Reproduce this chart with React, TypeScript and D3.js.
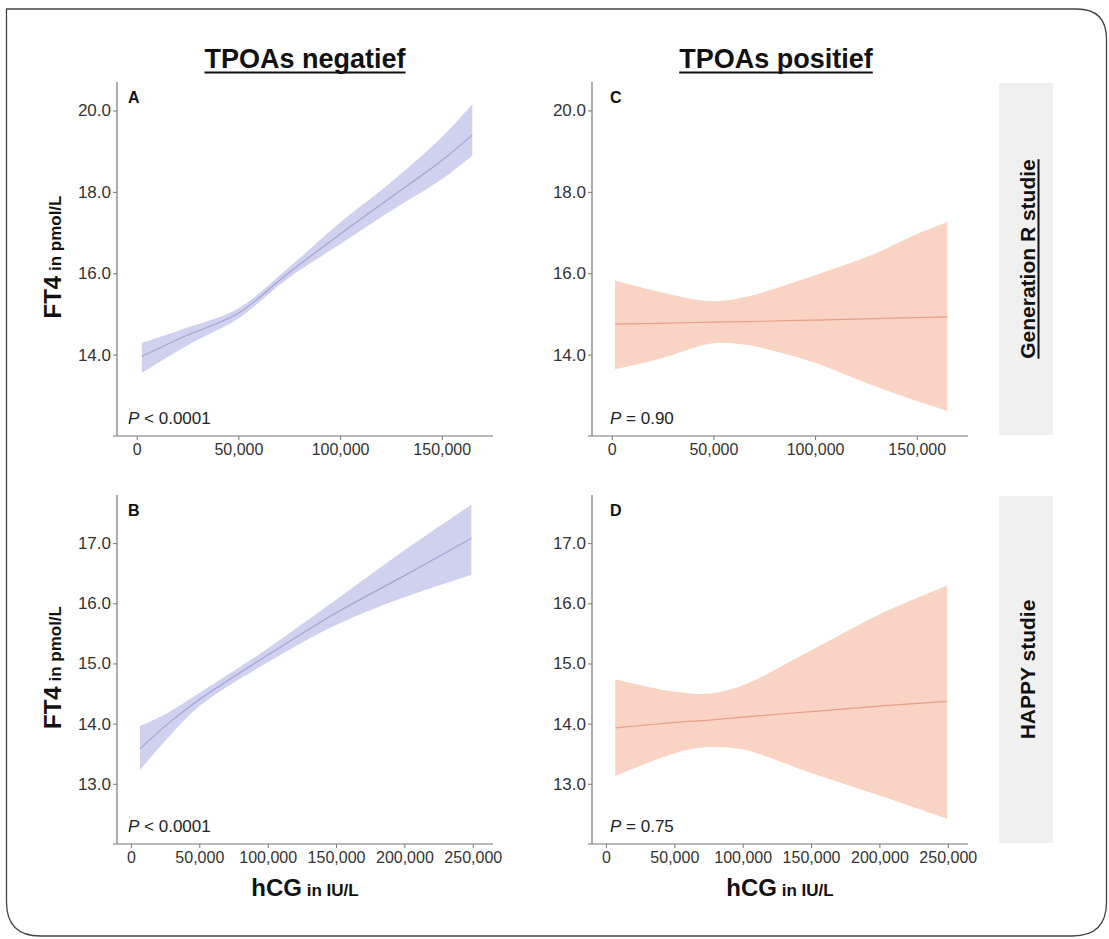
import React, { useEffect, useRef } from "react";
import * as d3 from "d3";

const W = 1109;
const H = 939;
const FONT = "'Liberation Sans', Arial, Helvetica, sans-serif";

// Generation R, TPOAs negatief (A)
const genRNegHcg = [2500, 24600, 49700, 74800, 100000, 124900, 150000, 165000];
const genRNegFit = [13.96, 14.47, 15.01, 16.01, 16.96, 17.86, 18.77, 19.4];
const genRNegLow = [13.55, 14.22, 14.88, 15.89, 16.71, 17.53, 18.31, 18.89];
const genRNegHigh = [14.29, 14.66, 15.13, 16.14, 17.25, 18.23, 19.34, 20.16];

// HAPPY, TPOAs negatief (B)
const happyNegHcg = [6600, 26100, 50000, 100000, 150000, 200000, 249000];
const happyNegFit = [13.58, 13.98, 14.4, 15.14, 15.84, 16.46, 17.08];
const happyNegLow = [13.23, 13.74, 14.29, 15.02, 15.64, 16.1, 16.47];
const happyNegHigh = [13.96, 14.17, 14.51, 15.25, 16.06, 16.88, 17.64];

// Generation R, TPOAs positief (C)
const genRPosHcg = [1600, 23700, 49800, 66200, 75000, 100000, 125000, 150000, 165000];
const genRPosFit = [14.75, 14.77, 14.8, 14.81, 14.82, 14.85, 14.88, 14.91, 14.93];
const genRPosLow = [13.64, 13.9, 14.28, 14.24, 14.15, 13.8, 13.31, 12.86, 12.62];
const genRPosHigh = [15.82, 15.54, 15.31, 15.42, 15.54, 15.95, 16.39, 16.96, 17.26];

// HAPPY, TPOAs positief (D)
const happyPosHcg = [6800, 50400, 75500, 100300, 150200, 199600, 249500];
const happyPosFit = [13.93, 14.02, 14.06, 14.11, 14.2, 14.29, 14.37];
const happyPosLow = [13.13, 13.51, 13.61, 13.57, 13.18, 12.81, 12.42];
const happyPosHigh = [14.74, 14.53, 14.5, 14.64, 15.22, 15.81, 16.29];

const topYTicks = [14, 16, 18, 20];
const bottomYTicks = [13, 14, 15, 16, 17];
const topXTicks = [0, 50000, 100000, 150000];
const bottomXTicks = [0, 50000, 100000, 150000, 200000, 250000];

const columnTitles = ["TPOAs negatief", "TPOAs positief"];
const rowStrips = ["Generation R studie", "HAPPY studie"];
const pValues = ["< 0.0001", "< 0.0001", "= 0.90", "= 0.75"];
const panelLetters = ["A", "B", "C", "D"];

const panels = [
  { row: 0, col: 0, hcg: genRNegHcg, fit: genRNegFit, low: genRNegLow, high: genRNegHigh },
  { row: 1, col: 0, hcg: happyNegHcg, fit: happyNegFit, low: happyNegLow, high: happyNegHigh },
  { row: 0, col: 1, hcg: genRPosHcg, fit: genRPosFit, low: genRPosLow, high: genRPosHigh },
  { row: 1, col: 1, hcg: happyPosHcg, fit: happyPosFit, low: happyPosLow, high: happyPosHigh },
];

const layout = {
  colLeft: [117, 592],
  panelWidth: 376,
  rowTop: [82, 495],
  rowBottom: [436, 844],
  letterDx: [11, 18],
  stripX: 999,
  stripWidth: 54,
};

const xDomains = [
  [-9700, 175200],
  [-10200, 264800],
];
const yDomains = [
  [12.0, 20.7],
  [12.0, 17.8],
];

const bandColors = ["#cfd1ee", "#f9d3c3"];
const lineColors = ["#a3a6d6", "#e79f87"];

export default function App() {
  const svgRef = useRef<SVGSVGElement>(null);

  useEffect(() => {
    const svg = d3.select(svgRef.current);
    svg.selectAll("*").remove();

    // outer frame: square top-left, rounded elsewhere
    const fx0 = 6.5, fy0 = 9, fx1 = 1106.5, fy1 = 936, r1 = 30, r2 = 34;
    svg
      .append("path")
      .attr(
        "d",
        `M${fx0},${fy0} H${fx1 - r1} Q${fx1},${fy0} ${fx1},${fy0 + r1} V${fy1 - r2} Q${fx1},${fy1} ${fx1 - r2},${fy1} H${fx0 + r2} Q${fx0},${fy1} ${fx0},${fy1 - r2} Z`
      )
      .attr("fill", "#fff")
      .attr("stroke", "#444")
      .attr("stroke-width", 1.3);

    panels.forEach((p, i) => {
      const left = layout.colLeft[p.col];
      const right = left + layout.panelWidth;
      const top = layout.rowTop[p.row];
      const bottom = layout.rowBottom[p.row];

      const x = d3.scaleLinear().domain(xDomains[p.row]).range([left, right]);
      const y = d3.scaleLinear().domain(yDomains[p.row]).range([bottom, top]);

      const rows = p.hcg.map((h, j) => ({ h, fit: p.fit[j], low: p.low[j], high: p.high[j] }));

      const g = svg.append("g");

      const area = d3
        .area<any>()
        .x((d) => x(d.h))
        .y0((d) => y(d.low))
        .y1((d) => y(d.high))
        .curve(d3.curveCatmullRom.alpha(0.5));
      g.append("path").datum(rows).attr("d", area).attr("fill", bandColors[p.col]);

      const line = d3
        .line<any>()
        .x((d) => x(d.h))
        .y((d) => y(d.fit))
        .curve(d3.curveCatmullRom.alpha(0.5));
      g.append("path")
        .datum(rows)
        .attr("d", line)
        .attr("fill", "none")
        .attr("stroke", lineColors[p.col])
        .attr("stroke-width", 1.2);

      // axes
      const yAxis = d3
        .axisLeft(y)
        .tickValues(p.row === 0 ? topYTicks : bottomYTicks)
        .tickFormat(d3.format(".1f"))
        .tickSize(4)
        .tickSizeOuter(0)
        .tickPadding(2);
      const ya = g.append("g").attr("transform", `translate(${left},0)`).call(yAxis);
      ya.select(".domain").remove();
      ya.selectAll("line").attr("stroke", "#777");
      ya.selectAll("text")
        .attr("fill", "#333")
        .style("font-family", FONT)
        .style("font-size", "17px");

      const xAxis = d3
        .axisBottom(x)
        .tickValues(p.row === 0 ? topXTicks : bottomXTicks)
        .tickFormat(d3.format(","))
        .tickSize(4)
        .tickSizeOuter(0)
        .tickPadding(4);
      const xa = g.append("g").attr("transform", `translate(0,${bottom})`).call(xAxis);
      xa.select(".domain").remove();
      xa.selectAll("line").attr("stroke", "#777");
      xa.selectAll("text")
        .attr("fill", "#333")
        .style("font-family", FONT)
        .style("font-size", "16px");

      g.append("line")
        .attr("x1", left)
        .attr("x2", left)
        .attr("y1", top)
        .attr("y2", bottom)
        .attr("stroke", "#777")
        .attr("stroke-width", 1.2);
      g.append("line")
        .attr("x1", left - 4)
        .attr("x2", right)
        .attr("y1", bottom)
        .attr("y2", bottom)
        .attr("stroke", "#777")
        .attr("stroke-width", 1.2);

      // panel letter
      g.append("text")
        .attr("x", left + layout.letterDx[p.col])
        .attr("y", top + 21)
        .attr("font-family", FONT)
        .attr("font-weight", "bold")
        .attr("font-size", 16)
        .attr("fill", "#111")
        .text(panelLetters[i]);

      // p-value
      const pt = g
        .append("text")
        .attr("x", left + layout.letterDx[p.col])
        .attr("y", bottom - 12)
        .attr("font-family", FONT)
        .attr("font-size", 17)
        .attr("fill", "#222");
      pt.append("tspan").attr("font-style", "italic").text("P");
      pt.append("tspan").text(" " + pValues[i]);

      // y label
      const ly = (top + bottom) / 2;
      if (p.col === 0) {
        const yl = g
          .append("text")
          .attr("transform", `translate(61,${ly - 2}) rotate(-90)`)
          .attr("text-anchor", "middle")
          .attr("font-family", FONT)
          .attr("font-weight", "bold")
          .attr("fill", "#111");
        yl.append("tspan").attr("font-size", 24).text("FT4");
        yl.append("tspan").attr("font-size", 17).text(" in pmol/L");
      }

      // x label
      if (p.row === 1) {
        const xl = g
          .append("text")
          .attr("x", (left + right) / 2)
          .attr("y", 896)
          .attr("text-anchor", "middle")
          .attr("font-family", FONT)
          .attr("font-weight", "bold")
          .attr("fill", "#111");
        xl.append("tspan").attr("font-size", 24).text("hCG");
        xl.append("tspan").attr("font-size", 17).text(" in IU/L");
      }

      // column title
      if (p.row === 0) {
        const cx = (left + right) / 2 - (p.col === 1 ? 4 : 0);
        const tt = svg
          .append("text")
          .attr("x", cx)
          .attr("y", 68)
          .attr("text-anchor", "middle")
          .attr("font-family", FONT)
          .attr("font-weight", "bold")
          .attr("font-size", 27)
          .attr("fill", "#111")
          .text(columnTitles[p.col]);
        const tw = (tt.node() as SVGTextElement).getComputedTextLength();
        svg
          .append("rect")
          .attr("x", cx - tw / 2)
          .attr("y", 71.5)
          .attr("width", tw)
          .attr("height", 2)
          .attr("fill", "#111");
      }

      // row strip
      if (p.col === 1) {
        svg
          .append("rect")
          .attr("x", layout.stripX)
          .attr("y", top + 1)
          .attr("width", layout.stripWidth)
          .attr("height", bottom - top - 2)
          .attr("fill", "#f0f0f0");
        const sx = 1035;
        const st = svg
          .append("text")
          .attr("transform", `translate(${sx},${ly}) rotate(-90)`)
          .attr("text-anchor", "middle")
          .attr("font-family", FONT)
          .attr("font-weight", "bold")
          .attr("font-size", 21)
          .attr("fill", "#111")
          .text(rowStrips[p.row]);
        if (p.row === 0) {
          const sw = (st.node() as SVGTextElement).getComputedTextLength();
          svg
            .append("rect")
            .attr("x", sx + 2.5)
            .attr("y", ly - sw / 2)
            .attr("width", 2)
            .attr("height", sw)
            .attr("fill", "#111");
        }
      }
    });
  }, []);

  return (
    <svg
      ref={svgRef}
      width={W}
      height={H}
      style={{ position: "absolute", left: 0, top: 0, background: "#fff" }}
    />
  );
}
